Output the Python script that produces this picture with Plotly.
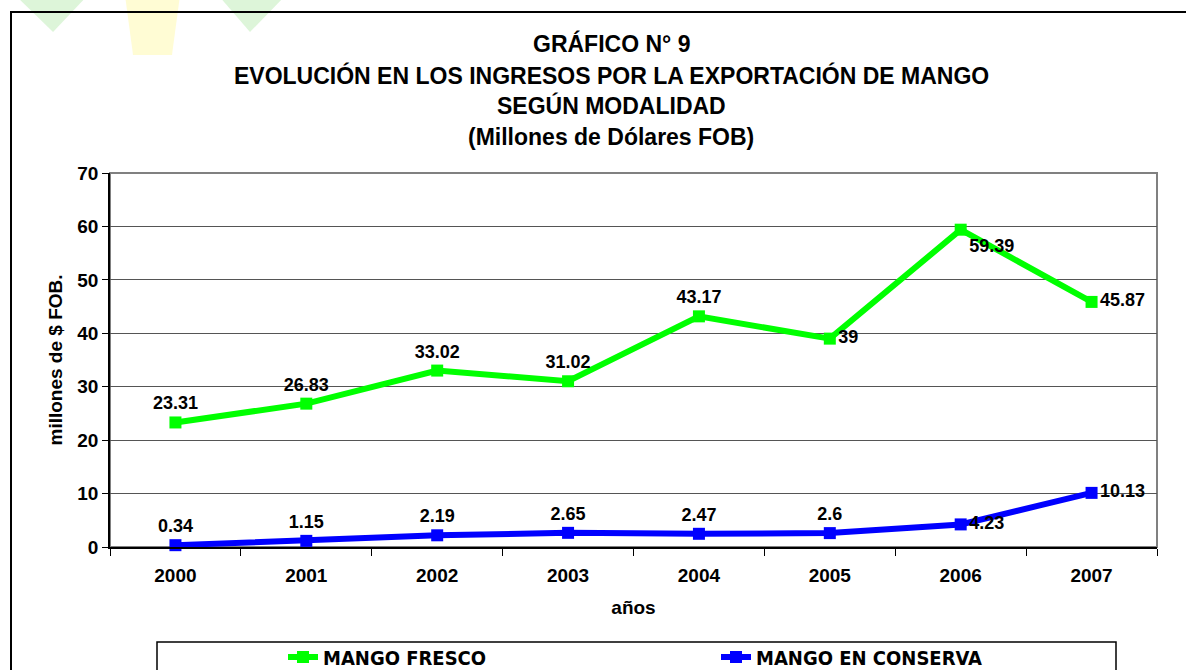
import plotly.graph_objects as go

# datos del gráfico
anios = ["2000", "2001", "2002", "2003", "2004", "2005", "2006", "2007"]
mango_fresco = [23.31, 26.83, 33.02, 31.02, 43.17, 39, 59.39, 45.87]
mango_conserva = [0.34, 1.15, 2.19, 2.65, 2.47, 2.6, 4.23, 10.13]
etiquetas_fresco = ["23.31", "26.83", "33.02", "31.02", "43.17", "39", "59.39", "45.87"]
etiquetas_conserva = ["0.34", "1.15", "2.19", "2.65", "2.47", "2.6", "4.23", "10.13"]
titulo = [
    "GRÁFICO N° 9",
    "EVOLUCIÓN EN LOS INGRESOS POR LA EXPORTACIÓN DE MANGO",
    "SEGÚN MODALIDAD",
    "(Millones de Dólares FOB)",
]

W, H = 1186, 670
L, R, T, B = 110, 29, 173, 123
PW, PH = W - L - R, H - T - B
FONT = "Liberation Sans, Arial, sans-serif"
NARROW = "Liberation Sans Narrow, DejaVu Sans Condensed, sans-serif"


def px(x, y):
    # pixel -> paper
    return (x - L) / PW, (H - B - y) / PH


def path(pts):
    s = ""
    for i, (x, y) in enumerate(pts):
        u, v = px(x, y)
        s += ("M" if i == 0 else "L") + f"{u:.4f},{v:.4f} "
    return s + "Z"


fig = go.Figure()

fig.add_scatter(
    x=anios, y=mango_fresco, name="MANGO FRESCO",
    mode="lines+markers+text", text=etiquetas_fresco,
    textposition=["top center", "top center", "top center", "top center",
                  "top center", "middle right", "bottom right", "middle right"],
    line=dict(color="#00FF00", width=6),
    marker=dict(symbol="square", size=12, color="#00FF00"),
    textfont=dict(family=FONT, size=18, color="black", weight="bold"),
    cliponaxis=False,
)
fig.add_scatter(
    x=anios, y=mango_conserva, name="MANGO EN CONSERVA",
    mode="lines+markers+text", text=etiquetas_conserva,
    textposition=["top center", "top center", "top center", "top center",
                  "top center", "top center", "middle right", "middle right"],
    line=dict(color="#0000FF", width=6),
    marker=dict(symbol="square", size=12, color="#0000FF"),
    textfont=dict(family=FONT, size=18, color="black", weight="bold"),
    cliponaxis=False,
)

shapes = []
# manchas del logo arriba
shapes.append(dict(type="path", xref="paper", yref="paper", layer="below",
                   path=path([(15, -5), (88, -5), (53, 32)]),
                   fillcolor="#c6eec0", line=dict(width=0), opacity=0.6))
shapes.append(dict(type="path", xref="paper", yref="paper", layer="below",
                   path=path([(218, -5), (286, -5), (250, 32)]),
                   fillcolor="#c6eec0", line=dict(width=0), opacity=0.6))
shapes.append(dict(type="path", xref="paper", yref="paper", layer="below",
                   path=path([(125, -5), (180, -5), (172, 55), (133, 55)]),
                   fillcolor="#fffab8", line=dict(width=0), opacity=0.6))
# marco exterior
x0, y0 = px(11, 12)
x1, y1 = px(1200, 700)
shapes.append(dict(type="rect", xref="paper", yref="paper", x0=x0, y0=y1, x1=x1, y1=y0,
                   line=dict(color="black", width=2)))
# borde del area de trazado
shapes.append(dict(type="rect", xref="paper", yref="paper", x0=0, y0=0, x1=1, y1=1,
                   line=dict(color="#808080", width=2), layer="below"))
# caja de la leyenda
x0, y0 = px(157, 642)
x1, y1 = px(1116, 700)
shapes.append(dict(type="rect", xref="paper", yref="paper", x0=x0, y0=y1, x1=x1, y1=y0,
                   line=dict(color="black", width=1.5)))

annotations = []
for i, linea in enumerate(titulo):
    u, v = px(611, 44 + i * 31)
    annotations.append(dict(text=linea, xref="paper", yref="paper", x=u, y=v,
                            xanchor="center", yanchor="middle", showarrow=False,
                            font=dict(family=FONT, size=23, color="black", weight="bold")))

lx, ly = px(283, 657)
fig.update_layout(
    width=W, height=H,
    margin=dict(l=L, r=R, t=T, b=B, autoexpand=False),
    paper_bgcolor="white", plot_bgcolor="white",
    shapes=shapes, annotations=annotations,
    showlegend=True,
    legend=dict(orientation="h", x=lx, y=ly, xanchor="left", yanchor="middle",
                entrywidth=388, entrywidthmode="pixels",
                bgcolor="rgba(0,0,0,0)",
                font=dict(family=NARROW, size=20, color="black", weight="bold")),
    xaxis=dict(
        type="category", range=[-0.5, 7.5],
        showline=True, linecolor="black", linewidth=1.5,
        ticks="outside", tickson="boundaries", ticklen=7, tickcolor="black",
        showgrid=False, ticklabelstandoff=10,
        tickfont=dict(family=FONT, size=19, color="black", weight="bold"),
        title=dict(text="años", standoff=16,
                   font=dict(family=FONT, size=19, color="black", weight="bold")),
    ),
    yaxis=dict(
        range=[0, 70], dtick=10,
        showline=True, linecolor="black", linewidth=1.5,
        ticks="outside", ticklen=6, tickcolor="black",
        showgrid=True, gridcolor="#555555", gridwidth=1,
        zeroline=False,
        tickfont=dict(family=FONT, size=19, color="black", weight="bold"),
        title=dict(text="millones de $ FOB.", standoff=10,
                   font=dict(family=FONT, size=19, color="black", weight="bold")),
    ),
)

fig.write_html("out.html", config={"displayModeBar": False},
               post_script="document.body.style.margin='0';")
